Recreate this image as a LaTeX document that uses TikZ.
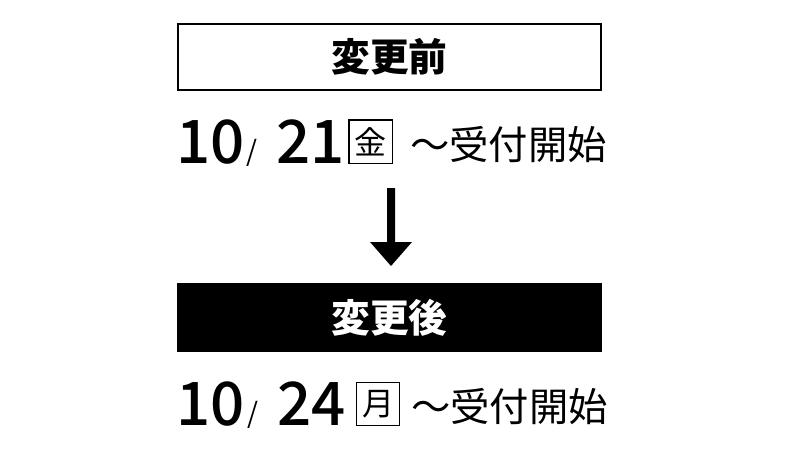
\documentclass[tikz,border=0pt]{standalone}
\usepackage{fontspec}
\setmainfont{Noto Sans CJK JP}
\newfontfamily\digfont{Noto Sans CJK JP}[UprightFont={* Medium},BoldFont={* Medium}]
\begin{document}
\begin{tikzpicture}[x=0.75pt,y=-0.75pt,
  titlebox/.style={draw=black,line width=1.5pt,minimum width=317pt,minimum height=50pt,inner sep=0pt},
  digits/.style={font=\fontsize{45}{45}\digfont\selectfont,inner sep=0pt,anchor=base west},
  slashtxt/.style={font=\fontsize{21}{21}\selectfont,inner sep=0pt,anchor=base west},
  daybox/.style={draw=black,line width=1pt,minimum width=32.5pt,minimum height=32.5pt,inner sep=0pt,font=\fontsize{24}{24}\selectfont},
  restxt/.style={font=\fontsize{29.5}{29.5}\selectfont,inner sep=0pt,anchor=base west}]
\useasboundingbox (0,0) rectangle (800,450);
\node[titlebox,fill=white] (before) at (389.5,57) {\fontsize{29}{29}\selectfont\bfseries 変更前};
\node[digits] (d1a) at (176,163) {10};
\node[slashtxt] (s1) at (246,161) {/};
\node[digits] (d1b) at (276,163) {21};
\node[daybox] (k1) at (370.5,141.5) {金};
\node[restxt] (r1) at (410,159) {～受付開始};
\fill[black] (387,188) -- (395,188) -- (395,242) -- (412,242) -- (391,266) -- (370,242) -- (387,242) -- cycle;
\node[titlebox,fill=black,text=white] (after) at (389.5,317.5) {\fontsize{29}{29}\selectfont\bfseries 変更後};
\node[digits] (d2a) at (176,425) {10};
\node[slashtxt] (s2) at (247,423) {/};
\node[digits] (d2b) at (277,425) {24};
\node[daybox] (k2) at (378,404) {月};
\node[restxt] (r2) at (411,421) {～受付開始};
\end{tikzpicture}
\end{document}
